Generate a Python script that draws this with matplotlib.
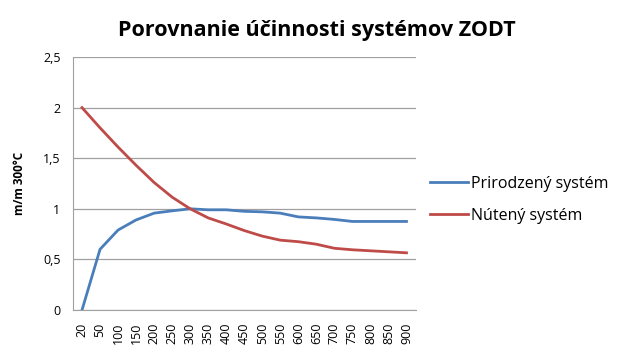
import matplotlib.pyplot as plt

plt.rcParams['font.family'] = ['Open Sans', 'DejaVu Sans']

teploty = ['20', '50', '100', '150', '200', '250', '300', '350', '400', '450',
           '500', '550', '600', '650', '700', '750', '800', '850', '900']
prirodzeny = [0.0, 0.6, 0.79, 0.89, 0.957, 0.98, 1.0, 0.99, 0.99, 0.975,
              0.97, 0.957, 0.92, 0.91, 0.895, 0.875, 0.875, 0.875, 0.875]
nuteny = [2.0, 1.80, 1.61, 1.43, 1.26, 1.115, 1.0, 0.91, 0.85, 0.785,
          0.73, 0.69, 0.675, 0.65, 0.61, 0.595, 0.585, 0.575, 0.565]
y_ticks = [0, 0.5, 1, 1.5, 2, 2.5]
y_labels = ['0', '0,5', '1', '1,5', '2', '2,5']

fig = plt.figure(figsize=(6.31, 3.6), dpi=100)
ax = fig.add_axes([73 / 631, 1 - 310 / 360, (415.5 - 73) / 631, (310 - 57) / 360])

x = range(len(teploty))
ax.plot(x, prirodzeny, color='#4A7EBB', lw=2.0, label='Prirodzený systém')
ax.plot(x, nuteny, color='#BE4B48', lw=2.0, label='Nútený systém')

ax.set_xlim(-0.5, len(teploty) - 0.5)
ax.set_ylim(0, 2.5)
ax.set_yticks(y_ticks)
ax.set_yticklabels(y_labels, fontsize=9)
ax.set_xticks(list(x))
ax.set_xticklabels(teploty, rotation=90, fontsize=9)
ax.tick_params(length=0, pad=9)
ax.grid(axis='y', color='#A0A0A0', lw=0.9)
ax.set_axisbelow(True)
for s in ['top', 'right']:
    ax.spines[s].set_visible(False)
for s in ['left', 'bottom']:
    ax.spines[s].set_color('#A0A0A0')

ax.set_ylabel('m/m 300°C', fontsize=8.5, fontweight='bold', labelpad=12)
fig.suptitle('Porovnanie účinnosti systémov ZODT', x=0.502, y=0.945,
             fontsize=15.5, fontweight='bold')

ax.legend(loc='center left', bbox_to_anchor=(1.0, 0.435), frameon=False,
          fontsize=11.5, handlelength=2.4, handletextpad=0.2, labelspacing=1.0)

fig.savefig('out.png', dpi=100)
